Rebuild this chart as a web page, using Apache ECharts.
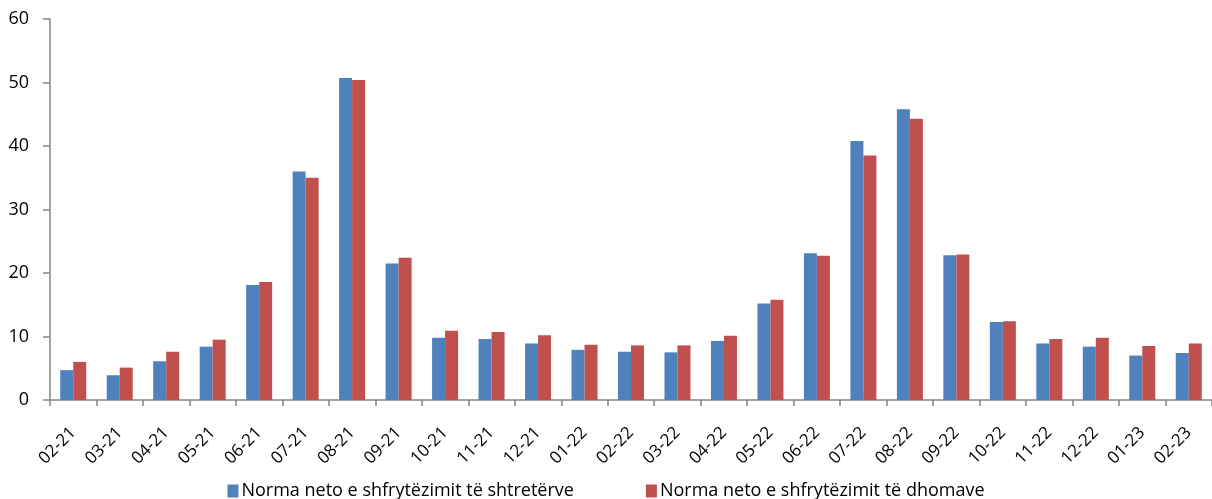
<!DOCTYPE html>
<html><head><meta charset="utf-8">
<script src="https://cdn.jsdelivr.net/npm/echarts@6/dist/echarts.min.js"></script>
<style>html,body{margin:0;padding:0;background:#fff}#c{width:1212px;height:499px}</style>
</head><body><div id="c"></div>
<script>
const categories = ['02-21','03-21','04-21','05-21','06-21','07-21','08-21','09-21','10-21','11-21','12-21','01-22','02-22','03-22','04-22','05-22','06-22','07-22','08-22','09-22','10-22','11-22','12-22','01-23','02-23'];
const beds = [4.7,3.9,6.1,8.4,18.1,36.0,50.7,21.5,9.8,9.6,8.9,7.9,7.6,7.5,9.3,15.2,23.1,40.8,45.8,22.8,12.3,8.9,8.4,7.0,7.4];
const rooms = [6.0,5.1,7.6,9.5,18.6,35.0,50.4,22.4,10.9,10.7,10.2,8.7,8.6,8.6,10.1,15.8,22.7,38.5,44.3,22.9,12.4,9.6,9.8,8.5,8.9];
const seriesNames = ['Norma neto e shfrytëzimit të shtretërve','Norma neto e shfrytëzimit të dhomave'];
const yTicks = {min:0,max:60,interval:10};
const chart = echarts.init(document.getElementById('c'));
const font = 'Open Sans';
chart.setOption({
  animation:false,
  grid:{left:50,top:19,width:1168,height:381,containLabel:false},
  legend:{top:477,left:'center',itemWidth:11,itemHeight:13,itemGap:72,icon:'rect',
    textStyle:{fontFamily:font,fontSize:18,color:'#000',padding:[0,0,0,-2]},data:seriesNames},
  xAxis:{type:'category',data:categories,
    axisLine:{lineStyle:{color:'#868686',width:1.5}},
    axisTick:{show:true,length:6,lineStyle:{color:'#868686',width:1.5}},
    axisLabel:{rotate:45,fontFamily:font,fontSize:17,color:'#000',margin:30,interval:0,hideOverlap:false}},
  yAxis:{type:'value',min:yTicks.min,max:yTicks.max,interval:yTicks.interval,
    splitLine:{show:false},
    axisLine:{show:true,lineStyle:{color:'#868686',width:1.5}},
    axisTick:{show:true,length:7,lineStyle:{color:'#868686',width:1.5}},
    axisLabel:{fontFamily:font,fontSize:18,color:'#000',margin:21}},
  series:[
    {name:seriesNames[0],type:'bar',data:beds,barWidth:13,barGap:'0%',itemStyle:{color:'#4F81BD'}},
    {name:seriesNames[1],type:'bar',data:rooms,barWidth:13,barGap:'0%',itemStyle:{color:'#C0504D'}}
  ]
});
</script></body></html>
